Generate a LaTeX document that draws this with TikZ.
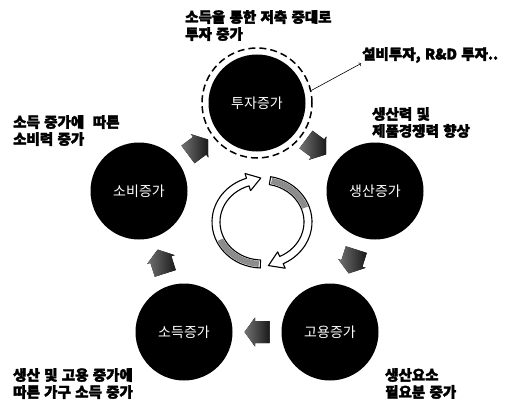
\documentclass[tikz,border=0pt]{standalone}
\usepackage{fontspec}
\setmainfont{Noto Sans CJK KR}[WordSpace=1.3, BoldFeatures={FakeBold=2.5}]
\usetikzlibrary{calc}
\begin{document}
\begin{tikzpicture}[x=1pt,y=1pt,
        circ/.style={circle, fill=black, minimum size=97pt, inner sep=0pt, text=white, font=\fontsize{14}{15}\selectfont},
        lbl/.style={anchor=north west, align=left, inner sep=0pt, font=\bfseries\fontsize{14.5}{17}\selectfont},
        blockfill/.style={left color=black!55, right color=black!90}]
        \useasboundingbox (0,0) rectangle (518,-406);
        % five stages of the cycle
        \node[circ] (tuja) at (257,-103) {투자증가};
        \node[circ] (saengsan) at (375,-191) {생산증가};
        \node[circ] (goyong) at (330,-332) {고용증가};
        \node[circ] (sodeuk) at (184,-332) {소득증가};
        \node[circ] (sobi) at (139,-191) {소비증가};
        \node[circle, draw, line width=1.5pt, dash pattern=on 7pt off 4pt, minimum size=110pt] (tujaring) at (tuja) {};
        \foreach \a/\b/\ang in {sobi/tuja/36.7, tuja/saengsan/-36.7, saengsan/goyong/-107.7,
                goyong/sodeuk/180, sodeuk/sobi/107.7}
            \fill[blockfill, shift={($(\a)!0.5!(\b)$)}, rotate=\ang]
                (-12.5,-11) -- (2,-11) -- (2,-14.5) -- (12.5,0) -- (2,14.5) -- (2,11) -- (-12.5,11) -- cycle;
        % labels
        \node[lbl] (lbltuja) at (185,-10) {소득을 통한 저축 증대로\\투자 증가};
        \node[lbl, anchor=west] (seolbi) at (362,-55) {설비투자, R\&D 투자..};
        \draw[->, line width=0.6pt, shorten >=1pt] (tujaring.13) -- (seolbi.south west);
        \node[lbl] (lblsaengsan) at (372,-107) {생산력 및\\제품경쟁력 향상};
        \node[lbl] (lblsobi) at (13,-115) {소득 증가에 \ 따른\\소비력 증가};
        \node[lbl] (lblsodeuk) at (13,-368) {생산 및 고용 증가에\\따른 가구 소득 증가};
        \node[lbl] (lblgoyong) at (385,-368) {생산요소\\필요분 증가};
        % round arrows in the middle
        \coordinate (cyc) at (262,-222);
        \filldraw[fill=white, line width=1.1pt, line join=round]
            ($(cyc)+(268:50pt and 46pt)$) arc[start angle=268, end angle=108, x radius=50pt, y radius=46pt]
            -- ($(cyc)+(108:55pt and 51pt)$) -- ($(cyc)+(108:46pt and 42pt)+(13pt,4pt)$)
            -- ($(cyc)+(108:37pt and 33pt)$) -- ($(cyc)+(108:42pt and 38pt)$)
            arc[start angle=108, end angle=268, x radius=42pt, y radius=38pt] -- cycle;
        \fill[black!45] ($(cyc)+(266:49pt and 45pt)$) arc[start angle=266, end angle=205, x radius=49pt, y radius=45pt]
            -- ($(cyc)+(205:43pt and 39pt)$) arc[start angle=205, end angle=266, x radius=43pt, y radius=39pt] -- cycle;
        \filldraw[fill=white, line width=1.1pt, line join=round]
            ($(cyc)+(80:50pt and 46pt)$) arc[start angle=80, end angle=-65, x radius=50pt, y radius=46pt]
            -- ($(cyc)+(-65:55pt and 51pt)$) -- ($(cyc)+(-65:46pt and 42pt)+(-13pt,-5.5pt)$)
            -- ($(cyc)+(-65:37pt and 33pt)$) -- ($(cyc)+(-65:42pt and 38pt)$)
            arc[start angle=-65, end angle=80, x radius=42pt, y radius=38pt] -- cycle;
        \fill[black!45] ($(cyc)+(78:49pt and 45pt)$) arc[start angle=78, end angle=20, x radius=49pt, y radius=45pt]
            -- ($(cyc)+(20:43pt and 39pt)$) arc[start angle=20, end angle=78, x radius=43pt, y radius=39pt] -- cycle;
    \end{tikzpicture}
\end{document}
